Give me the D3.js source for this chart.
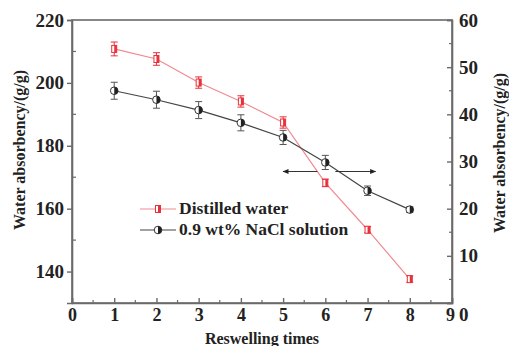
<!DOCTYPE html>
<html><head><meta charset="utf-8">
<script src="https://cdn.jsdelivr.net/npm/d3@7"></script>
<style>body{margin:0;background:#fff}svg{display:block}text{font-family:"Liberation Serif","DejaVu Serif",serif;font-weight:bold;fill:#222}</style>
</head><body><svg id="c" width="509" height="346"></svg>
<script>
const times = [1,2,3,4,5,6,7,8];
const distilled = [210.8,207.6,200.1,194.1,187.4,168.2,153.3,137.6];
const distilledErr = [2.2,2.0,1.8,1.8,1.8,1.2,1.0,1.0];
const nacl = [45.0,43.1,40.9,38.2,35.1,29.8,23.8,19.8];
const naclErr = [1.8,1.8,1.8,1.7,1.5,1.5,1.0,0.6];
const xTicks = [0,1,2,3,4,5,6,7,8,9];
const leftTicks = [140,160,180,200,220];
const rightTicks = [0,10,20,30,40,50,60];
const seriesNames = ["Distilled water","0.9 wt% NaCl solution"];

const svg = d3.select("#c");
const L=72,R=452,T=20,B=303;
const x = d3.scaleLinear().domain([0,9]).range([L,R]);
const yL = d3.scaleLinear().domain([130,220]).range([B,T]);
const yR = d3.scaleLinear().domain([0,60]).range([B,T]);
const frame="#6a6a6a", red="#e8303a", pink="#f08a90", blk="#222";

svg.append("rect").attr("x",L).attr("y",T).attr("width",R-L).attr("height",B-T)
  .attr("fill","none").attr("stroke",frame).attr("stroke-width",1.6);

const xa = svg.append("g").attr("transform",`translate(0,${B})`);
xa.call(d3.axisBottom(x).tickValues(xTicks).tickSize(-5).tickPadding(5).tickFormat(d3.format("d")));
xa.selectAll(".tick text").attr("font-size",18).attr("dy","0.71em");
xa.append("g").selectAll("line").data(d3.range(0.5,9,1)).join("line")
  .attr("x1",d=>x(d)).attr("x2",d=>x(d)).attr("y1",0).attr("y2",-3).attr("stroke",frame).attr("stroke-width",1.2);

const la = svg.append("g").attr("transform",`translate(${L},0)`);
la.call(d3.axisLeft(yL).tickValues(leftTicks).tickSize(5).tickPadding(3));
la.selectAll(".tick text").attr("font-size",19);
la.append("g").selectAll("line").data([150,170,190,210]).join("line")
  .attr("x1",0).attr("x2",4).attr("y1",d=>yL(d)).attr("y2",d=>yL(d)).attr("stroke",frame).attr("stroke-width",1.2);

const ra = svg.append("g").attr("transform",`translate(${R},0)`);
ra.call(d3.axisRight(yR).tickValues(rightTicks).tickSize(-5).tickPadding(7));
ra.selectAll(".tick text").attr("font-size",19);
ra.append("g").selectAll("line").data([5,15,25,35,45,55]).join("line")
  .attr("x1",0).attr("x2",-3).attr("y1",d=>yR(d)).attr("y2",d=>yR(d)).attr("stroke",frame).attr("stroke-width",1.2);

[xa,la,ra].forEach(a=>{a.select(".domain").attr("stroke",frame).attr("stroke-width",1.6);
  a.selectAll(".tick line").attr("stroke",frame).attr("stroke-width",1.4);
  a.selectAll(".tick text").attr("fill","#222");});
ra.selectAll(".tick").filter(d=>d===0).select("text").attr("dy","0.9em");
xa.selectAll(".tick").filter(d=>d===9).select("text").attr("dx","-2");

svg.append("text").attr("transform","translate(25,150) rotate(-90)").attr("text-anchor","middle")
  .attr("font-size",16).text("Water absorbency/(g/g)");
svg.append("text").attr("transform","translate(505,153) rotate(-90)").attr("text-anchor","middle")
  .attr("font-size",16).text("Water absorbency/(g/g)");
svg.append("text").attr("x",262).attr("y",344).attr("text-anchor","middle").attr("font-size",16).text("Reswelling times");

svg.append("path").datum(times).attr("fill","none").attr("stroke",pink).attr("stroke-width",1.2)
  .attr("d",d3.line().x(d=>x(d)).y((d,i)=>yL(distilled[i])));
svg.append("path").datum(times).attr("fill","none").attr("stroke","#444").attr("stroke-width",1.2)
  .attr("d",d3.line().x(d=>x(d)).y((d,i)=>yR(nacl[i])));

function ebars(vals,errs,sc,col){
  const g=svg.append("g").attr("stroke",col).attr("stroke-width",1);
  times.forEach((t,i)=>{
    const cx=x(t), y1=sc(vals[i]+errs[i]), y2=sc(vals[i]-errs[i]);
    g.append("line").attr("x1",cx).attr("x2",cx).attr("y1",y1).attr("y2",y2);
    g.append("line").attr("x1",cx-3.5).attr("x2",cx+3.5).attr("y1",y1).attr("y2",y1);
    g.append("line").attr("x1",cx-3.5).attr("x2",cx+3.5).attr("y1",y2).attr("y2",y2);
  });
}
ebars(distilled,distilledErr,yL,red);
ebars(nacl,naclErr,yR,"#555");

function redMark(g,cx,cy){
  g.append("rect").attr("x",cx-2.5).attr("y",cy-3.5).attr("width",5).attr("height",7).attr("fill","#fff").attr("stroke",red).attr("stroke-width",1);
  g.append("rect").attr("x",cx).attr("y",cy-3.5).attr("width",2.5).attr("height",7).attr("fill",red);
}
function blkMark(g,cx,cy){
  g.append("circle").attr("cx",cx).attr("cy",cy).attr("r",3.8).attr("fill","#fff").attr("stroke",blk).attr("stroke-width",0.9);
  g.append("path").attr("d",`M${cx},${cy-3.8} A3.8,3.8 0 0 1 ${cx},${cy+3.8} Z`).attr("fill",blk);
}
const mg=svg.append("g");
times.forEach((t,i)=>redMark(mg,x(t),yL(distilled[i])));
times.forEach((t,i)=>blkMark(mg,x(t),yR(nacl[i])));

const defs=svg.append("defs");
defs.append("marker").attr("id","ah").attr("viewBox","0 0 10 10").attr("refX",9).attr("refY",5)
  .attr("markerWidth",8).attr("markerHeight",6).attr("orient","auto-start-reverse")
  .append("path").attr("d","M0,1 L10,5 L0,9 Z").attr("fill","#222");
const ay=171.5;
svg.append("line").attr("x1",x(6)-8).attr("x2",x(5)).attr("y1",ay).attr("y2",ay).attr("stroke","#333").attr("stroke-width",1).attr("marker-end","url(#ah)");
svg.append("line").attr("x1",x(6)+10).attr("x2",x(7)+8).attr("y1",ay).attr("y2",ay).attr("stroke","#333").attr("stroke-width",1).attr("marker-end","url(#ah)");

const lg=svg.append("g");
[[209,pink,red,0],[230,"#444",blk,1]].forEach(([ly,lc,mc,k])=>{
  lg.append("line").attr("x1",140).attr("x2",176).attr("y1",ly).attr("y2",ly).attr("stroke",lc).attr("stroke-width",1.2);
  if(k===0) redMark(lg,158,ly); else blkMark(lg,158,ly);
  lg.append("text").attr("x",179).attr("y",ly+5).attr("font-size",17.5).text(seriesNames[k]);
});
</script></body></html>
